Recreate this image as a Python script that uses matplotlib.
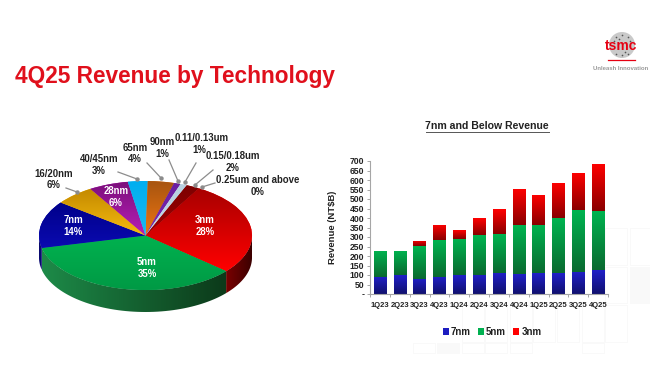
import numpy as np
import matplotlib
matplotlib.use("Agg")
import matplotlib.pyplot as plt
from matplotlib.colors import LinearSegmentedColormap
from matplotlib.patches import Polygon, Circle, Rectangle

plt.rcParams['font.family'] = ['Liberation Sans', 'DejaVu Sans']
plt.rcParams['font.weight'] = 'bold'

# pie data
tech_labels = ['3nm', '5nm', '7nm', '16/20nm', '28nm', '40/45nm', '65nm', '90nm',
               '0.11/0.13um', '0.15/0.18um', '0.25um and above']
tech_share = [28, 35, 14, 6, 6, 3, 4, 1, 1, 2, 0]
# (top of wedge colour, bottom of wedge colour)
tech_colors = [('#a80000', '#ff0000'), ('#00b24f', '#009a45'), ('#00008a', '#0a0ab0'),
               ('#c48a00', '#f6bb10'), ('#7c0f7c', '#b81fb8'), ('#00aeef', '#1cb8f2'),
               ('#a85510', '#ee7612'), ('#6a1fa0', '#7a2ab0'), ('#b7d0e0', '#c4d8e6'),
               ('#7d0000', '#a00000'), ('#7d0000', '#7d0000')]
side_colors = [('#7a0000', '#3c0000'), ('#1d8a48', '#0c3a1a'), ('#0a0a70', '#0a0a70')]

# bar data
quarters = ['1Q23', '2Q23', '3Q23', '4Q23', '1Q24', '2Q24', '3Q24', '4Q24', '1Q25', '2Q25', '3Q25', '4Q25']
rev_7nm = [90, 98, 80, 92, 100, 102, 112, 105, 110, 110, 116, 124]
rev_5nm = [138, 128, 172, 190, 192, 210, 204, 257, 254, 288, 324, 314]
rev_3nm = [0, 0, 28, 79, 45, 88, 130, 193, 159, 188, 198, 248]

W, H = 650, 388
fig = plt.figure(figsize=(W / 100, H / 100), dpi=100, facecolor='white')


def px_axes(x0, y0, x1, y1, **kw):
    # axes placed by pixel box (y measured from the top)
    return fig.add_axes([x0 / W, 1 - y1 / H, (x1 - x0) / W, (y1 - y0) / H], **kw)


def ramp(c0, c1):
    return LinearSegmentedColormap.from_list('r', [c0, c1])


# faint background squares
bg = px_axes(0, 0, W, H, zorder=0)
bg.set_xlim(0, W)
bg.set_ylim(H, 0)
bg.axis('off')
rows = [(228, 37, [605, 630]), (267, 36, [605, 630]),
        (305, 37, [462, 485, 510, 533, 557, 582, 605]),
        (343, 10, [413, 437, 462, 485, 510, 582])]
for y, h, xs in rows:
    for x in xs:
        filled = (x == 630 and y == 267) or (x == 437 and y == 343)
        bg.add_patch(Rectangle((x, y), min(22, 650 - x), h, fc='#f9f9f9' if filled else 'white',
                               ec='#f9f9f9', lw=0.7))

# ---- pie ----
depth = 22 / 54.5
ax_pie = px_axes(39, 181, 252, 290 + 22, zorder=2)
wedges, _ = ax_pie.pie(tech_share, startangle=60, counterclock=False, radius=1,
                       wedgeprops={'linewidth': 0})
ax_pie.set_aspect('auto')
ax_pie.axis('off')

for i, w in enumerate(wedges):
    w.set_facecolor(tech_colors[i][1])
    ext = w.get_path().get_extents()
    if ext.height == 0 or ext.width == 0:
        continue
    im = ax_pie.imshow(np.linspace(1, 0, 64)[:, None], cmap=ramp(tech_colors[i][1], tech_colors[i][0]),
                       extent=[ext.x0, ext.x1, ext.y1, ext.y0], aspect='auto', zorder=3, origin='lower')
    im.set_clip_path(w)
    # rim of the disc, only the part facing the viewer
    if i >= len(side_colors):
        continue
    for s in (-360, 0, 360):
        lo, hi = max(w.theta1 + s, -180), min(w.theta2 + s, 0)
        if hi <= lo:
            continue
        t = np.radians(np.linspace(lo, hi, 60))
        top = np.c_[np.cos(t), np.sin(t)]
        bot = top[::-1] - [0, depth]
        rim = Polygon(np.vstack([top, bot]), closed=True, fc='none', ec='none', transform=ax_pie.transData)
        ax_pie.add_patch(rim)
        im2 = ax_pie.imshow(np.linspace(0, 1, 64)[None, :], cmap=ramp(*side_colors[i]),
                            extent=[np.cos(t).min(), np.cos(t).max(), -1 - depth, 0], aspect='auto', zorder=2)
        im2.set_clip_path(rim)
ax_pie.set_xlim(-1, 1)
ax_pie.set_ylim(-1 - depth, 1)

# ---- bars ----
ax = px_axes(370, 161, 608, 294, zorder=2)
x = np.arange(len(quarters))
rev_7 = np.array(rev_7nm)
rev_5 = np.array(rev_5nm)
rev_3 = np.array(rev_3nm)
b7 = ax.bar(x, rev_7, 0.62, color='#1c1cc0', label='7nm')
b5 = ax.bar(x, rev_5, 0.62, bottom=rev_7, color='#00b050', label='5nm')
b3 = ax.bar(x, rev_3, 0.62, bottom=rev_7 + rev_5, color='#ff0000', label='3nm')
grads = [(b7, '#10106e', '#2020c8'), (b5, '#0a6a30', '#00b450'), (b3, '#8a0000', '#ff0000')]
for bars, c0, c1 in grads:
    for r in bars:
        if r.get_height() <= 0:
            continue
        im = ax.imshow(np.linspace(0, 1, 64)[:, None], cmap=ramp(c0, c1), origin='lower', aspect='auto',
                       extent=[r.get_x(), r.get_x() + r.get_width(), r.get_y(), r.get_y() + r.get_height()],
                       zorder=2)
        im.set_clip_path(r)
ax.set_xlim(-0.5, len(quarters) - 0.5)
ax.set_ylim(0, 700)
yt = np.arange(0, 701, 50)
ax.set_yticks(yt)
ax.set_yticklabels(['-'] + [str(v) for v in yt[1:]], fontsize=6.2, color='#222222')
ax.set_xticks(x)
ax.set_xticklabels(quarters, fontsize=5.5, color='#222222')
ax.set_xticks(np.arange(len(quarters) + 1) - 0.5, minor=True)
ax.tick_params(axis='y', length=2, width=0.6, color='#999999', pad=2)
ax.tick_params(axis='x', which='major', length=0, pad=5.5)
ax.tick_params(axis='x', which='minor', length=2, width=0.6, color='#999999')
ax.patch.set_alpha(0)
for sp in ('top', 'right'):
    ax.spines[sp].set_visible(False)
for sp in ('left', 'bottom'):
    ax.spines[sp].set_color('#a6a6a6')
    ax.spines[sp].set_linewidth(0.8)
ax.set_ylabel('Revenue (NT$B)', fontsize=6.8, fontweight='bold', color='#222222', labelpad=9)
ax.legend(ncols=3, loc='center', bbox_to_anchor=(0.513, -0.285), frameon=False, fontsize=7,
          handlelength=0.6, handleheight=0.6, handletextpad=0.25, columnspacing=0.7, labelcolor='#222222')

# ---- overlay text ----
ov = px_axes(0, 0, W, H, zorder=5)
ov.set_xlim(0, W)
ov.set_ylim(H, 0)
ov.axis('off')
ov.patch.set_alpha(0)

ov.text(15, 77, '4Q25 Revenue by Technology', color='#e0101c', fontsize=16.3, va='center', ha='left')
ov.text(487, 126, '7nm and Below Revenue', color='#222222', fontsize=7.6, va='center', ha='center')
ov.plot([426, 549], [132, 132], color='#555555', lw=0.7)

# logo
ov.add_patch(Circle((622, 45), 13, fc='#c9c9c9', ec='none'))
for dx, dy in [(-6, -8), (0, -10), (6, -8), (-8, -4), (8, -4), (-6, 9), (0, 10), (6, 9), (-3, -6), (3, 7)]:
    ov.plot([622 + dx], [45 + dy], 'o', color='#555555', ms=1.2, mew=0)
ov.text(621.5, 46, 'tsmc', color='#e60012', fontsize=10, ha='center', va='center')
ov.plot([608, 635], [60, 60], color='#e60012', lw=0.9)
ov.text(620.5, 68, 'Unleash Innovation', color='#9a9a9a', fontsize=4.3, ha='center', va='center')

outer = [('0.11/0.13um', 202, 138), ('1%', 199, 150), ('90nm', 162, 142), ('1%', 162, 154),
         ('65nm', 135, 148), ('4%', 135, 159), ('40/45nm', 99, 159), ('3%', 99, 171),
         ('16/20nm', 54, 174), ('6%', 54, 185), ('0.15/0.18um', 233, 156), ('2%', 233, 168),
         ('0.25um and above', 258, 180), ('0%', 258, 192)]
for s, tx, ty in outer:
    ov.text(tx, ty, s, color='#222222', fontsize=6.9, ha='center', va='center')
inner = [('3nm', 205, 220), ('28%', 205, 232), ('5nm', 147, 262), ('35%', 147, 274),
         ('7nm', 73, 220), ('14%', 73, 232), ('28nm', 116, 191), ('6%', 116, 203)]
for s, tx, ty in inner:
    ov.text(tx, ty, s, color='white', fontsize=6.9, ha='center', va='center')

leaders = [((66, 188), (77, 192)), ((118, 172), (137, 179)), ((147, 163), (161, 178)),
           ((169, 160), (178, 181)), ((196, 163), (185, 182)), ((213, 170), (195, 185)),
           ((215, 183), (202, 187))]
for (x0, y0), (x1, y1) in leaders:
    ov.plot([x0, x1], [y0, y1], color='#8c8c8c', lw=0.9)
    ov.plot([x1], [y1], 'o', color='#8c8c8c', ms=3.2, mew=0)

fig.savefig('out.png', dpi=100)
